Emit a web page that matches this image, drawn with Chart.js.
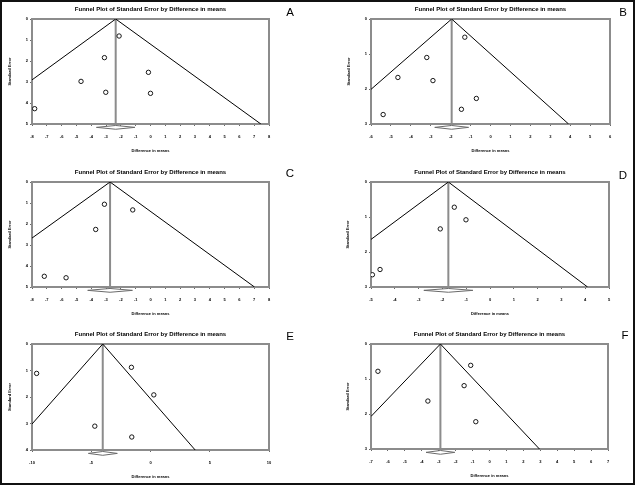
<!DOCTYPE html>
<html><head><meta charset="utf-8">
<script src="https://cdn.jsdelivr.net/npm/chart.js@4.4.1/dist/chart.umd.min.js"></script>
<style>
html,body{margin:0;padding:0;background:#fff;}
#wrap{position:relative;width:636px;height:485px;overflow:hidden;background:#fff;}
#frame{position:absolute;left:0;top:0;width:635px;height:485px;box-sizing:border-box;border:2px solid #111;pointer-events:none;}
.panel{position:absolute;}
.panel canvas{display:block;}
.letter{position:absolute;font-family:"Liberation Sans",Arial,sans-serif;font-size:11.5px;line-height:12px;color:#000;transform:translate(-50%,-50%);}
</style></head><body>
<div id="wrap">
  <div class="panel" style="left:0;top:0"><canvas id="cA" width="318" height="160"></canvas></div>
  <div class="panel" style="left:318px;top:0"><canvas id="cB" width="318" height="160"></canvas></div>
  <div class="panel" style="left:0;top:160px"><canvas id="cC" width="318" height="160"></canvas></div>
  <div class="panel" style="left:318px;top:160px"><canvas id="cD" width="318" height="160"></canvas></div>
  <div class="panel" style="left:0;top:320px"><canvas id="cE" width="318" height="165"></canvas></div>
  <div class="panel" style="left:318px;top:320px"><canvas id="cF" width="318" height="165"></canvas></div>
  <div class="letter" style="left:290px;top:12px">A</div>
  <div class="letter" style="left:623px;top:12px">B</div>
  <div class="letter" style="left:290px;top:173px">C</div>
  <div class="letter" style="left:623px;top:175px">D</div>
  <div class="letter" style="left:290px;top:336px">E</div>
  <div class="letter" style="left:625px;top:335px">F</div>
  <div id="frame"></div>
</div>
<script>
// ---- texts ----
const plotTitle = 'Funnel Plot of Standard Error by Difference in means';
const xAxisTitle = 'Difference in means';
const yAxisTitle = 'Standard Error';

// ---- axis ranges: [min, max, step] ----
const xRangeA = [-8, 8, 1],   seRangeA = [0, 5, 1];
const xRangeB = [-6, 6, 1],   seRangeB = [0, 3, 1];
const xRangeC = [-8, 8, 1],   seRangeC = [0, 5, 1];
const xRangeD = [-5, 5, 1],   seRangeD = [0, 3, 1];
const xRangeE = [-10, 10, 5], seRangeE = [0, 4, 1];
const xRangeF = [-7, 7, 1],   seRangeF = [0, 3, 1];

// ---- study points: difference in means / standard error ----
const diffA = [-2.12, -3.11, -0.14, -4.69, -3.02, 0.00, -7.82];
const seA   = [ 0.81,  1.84,  2.54,  2.97,  3.49, 3.54,  4.27];
const diffB = [-1.29, -3.20, -4.65, -2.89, -0.71, -1.46, -5.39];
const seB   = [ 0.52,  1.10,  1.67,  1.76,  2.27,  2.58,  2.73];
const diffC = [-3.11, -1.20, -3.70, -7.17, -5.70];
const seC   = [ 1.06,  1.33,  2.26,  4.49,  4.56];
const diffD = [-1.50, -1.01, -2.09, -4.62, -4.94];
const seD   = [ 0.72,  1.08,  1.34,  2.50,  2.65];
const diffE = [-9.61, -1.61, 0.28, -4.70, -1.58];
const seE   = [ 1.11,  0.88, 1.92,  3.10,  3.51];
const diffF = [-6.59, -1.11, -1.50, -3.64, -0.81];
const seF   = [ 0.78,  0.61,  1.19,  1.63,  2.22];

// ---- pooled estimate and its confidence interval ----
const pooledA = -2.35, ciA = [-3.65, -1.05];
const pooledB = -1.95, ciB = [-2.80, -1.10];
const pooledC = -2.73, ciC = [-4.24, -1.22];
const pooledD = -1.75, ciD = [-2.78, -0.72];
const pooledE = -4.03, ciE = [-5.24, -2.80];
const pooledF = -2.90, ciF = [-3.75, -2.05];

// ---- funnel limits (visible end points: left end, apex, right end) ----
const funnelDiffA = [-8, -2.35, 7.45],  funnelSeA = [2.90, 0, 5];
const funnelDiffB = [-6, -1.95, 3.92],  funnelSeB = [2.01, 0, 3];
const funnelDiffC = [-8, -2.73, 7.02],  funnelSeC = [2.67, 0, 5];
const funnelDiffD = [-5, -1.75, 4.10],  funnelSeD = [1.64, 0, 3];
const funnelDiffE = [-10, -4.03, 3.77], funnelSeE = [3.02, 0, 4];
const funnelDiffF = [-7, -2.90, 2.95],  funnelSeF = [2.07, 0, 3];

// ---- layout (pixels inside each panel canvas) ----
const FONT = '"Liberation Sans", Arial, Helvetica, sans-serif';
const geometry = {
  A: {L:32, R:269, T:19, B:124, yTitleX:10},
  B: {L:53, R:292, T:19, B:124, yTitleX:31},
  C: {L:32, R:269, T:22, B:127, yTitleX:10},
  D: {L:53, R:291, T:22, B:127, yTitleX:30},
  E: {L:32, R:269, T:24, B:130, yTitleX:10},
  F: {L:53, R:290, T:24, B:129, yTitleX:30}
};

const panels = {
  A: {xRange:xRangeA, seRange:seRangeA, diff:diffA, se:seA, pooled:pooledA, ci:ciA, fd:funnelDiffA, fs:funnelSeA},
  B: {xRange:xRangeB, seRange:seRangeB, diff:diffB, se:seB, pooled:pooledB, ci:ciB, fd:funnelDiffB, fs:funnelSeB},
  C: {xRange:xRangeC, seRange:seRangeC, diff:diffC, se:seC, pooled:pooledC, ci:ciC, fd:funnelDiffC, fs:funnelSeC},
  D: {xRange:xRangeD, seRange:seRangeD, diff:diffD, se:seD, pooled:pooledD, ci:ciD, fd:funnelDiffD, fs:funnelSeD},
  E: {xRange:xRangeE, seRange:seRangeE, diff:diffE, se:seE, pooled:pooledE, ci:ciE, fd:funnelDiffE, fs:funnelSeE},
  F: {xRange:xRangeF, seRange:seRangeF, diff:diffF, se:seF, pooled:pooledF, ci:ciF, fd:funnelDiffF, fs:funnelSeF}
};

const framePlugin = {
  id: 'plotFrame',
  beforeDatasetsDraw(chart) {
    const {ctx, chartArea: a} = chart;
    ctx.save();
    ctx.strokeStyle = '#8c8c8c';
    ctx.lineWidth = 2;
    ctx.strokeRect(a.left, a.top, a.right - a.left, a.bottom - a.top);
    ctx.restore();
  }
};

function makePanel(id) {
  const d = panels[id], g = geometry[id];
  const canvas = document.getElementById('c' + id);
  const W = canvas.width, H = canvas.height;
  const [xmin, xmax, xstep] = d.xRange;
  const [ymin, ymax, ystep] = d.seRange;
  const tickFont = {family: FONT, size: 4, weight: 'bold'};
  const axisTitleFont = {family: FONT, size: 4, weight: 'bold', lineHeight: 1.2};
  const titleFont = {family: FONT, size: 6, weight: 'bold', lineHeight: 1.2};
  const xAxisH = 30;
  const titleBox = 13.6;
  const layoutLeft = g.yTitleX - 2.4;

  const points = d.diff.map((v, i) => ({x: v, y: d.se[i]}));
  const funnel = d.fd.map((v, i) => ({x: v, y: d.fs[i]}));
  const vline = [{x: d.pooled, y: ymin}, {x: d.pooled, y: ymax}];
  const mid = ymax * 1.032, hh = ymax * 0.018;
  const diamond = [
    {x: d.ci[0], y: mid}, {x: d.pooled, y: mid - hh},
    {x: d.ci[1], y: mid}, {x: d.pooled, y: mid + hh}, {x: d.ci[0], y: mid}
  ];

  new Chart(canvas, {
    type: 'scatter',
    data: {datasets: [
      {type: 'line', data: vline, borderColor: '#8c8c8c', borderWidth: 2, pointRadius: 0, fill: false, order: 3},
      {type: 'line', data: funnel, borderColor: '#000', borderWidth: 1, pointRadius: 0, fill: false, tension: 0, order: 2},
      {type: 'line', data: diamond, borderColor: '#6a6a6a', borderWidth: 1, pointRadius: 0, fill: false, tension: 0, clip: false, order: 1},
      {type: 'scatter', data: points, pointRadius: 2.2, pointBorderWidth: 0.9, borderColor: '#000', backgroundColor: '#fff', pointBorderColor: '#000', pointBackgroundColor: '#fff', order: 0}
    ]},
    options: {
      responsive: false, animation: false, devicePixelRatio: 1,
      events: [],
      layout: {padding: {left: layoutLeft, right: W - g.R, top: g.T - titleBox, bottom: H - g.B - xAxisH}},
      plugins: {
        legend: {display: false}, tooltip: {enabled: false},
        title: {display: true, text: plotTitle, fullSize: false, color: '#000', font: titleFont, padding: {top: 0, bottom: titleBox - 7.2}}
      },
      scales: {
        x: {
          type: 'linear', min: xmin, max: xmax,
          ticks: {stepSize: xstep, autoSkip: false, maxRotation: 0, minRotation: 0, font: tickFont, color: '#000', padding: 8},
          grid: {display: true, drawOnChartArea: false, drawTicks: true, tickLength: 2, color: '#444', lineWidth: 0.8},
          border: {display: false},
          title: {display: true, text: xAxisTitle, color: '#000', font: axisTitleFont, padding: {top: 0, bottom: 1}},
          afterFit: s => { s.height = xAxisH; }
        },
        y: {
          type: 'linear', reverse: true, min: ymin, max: ymax,
          ticks: {stepSize: ystep, autoSkip: false, font: tickFont, color: '#000', padding: 2},
          grid: {display: true, drawOnChartArea: false, drawTicks: true, tickLength: 2, color: '#444', lineWidth: 0.8},
          border: {display: false},
          title: {display: true, text: yAxisTitle, color: '#000', font: axisTitleFont, padding: {top: 0, bottom: 0}},
          afterFit: s => { s.width = g.L - layoutLeft; }
        }
      }
    },
    plugins: [framePlugin]
  });
}

['A', 'B', 'C', 'D', 'E', 'F'].forEach(makePanel);
</script>
</body></html>
